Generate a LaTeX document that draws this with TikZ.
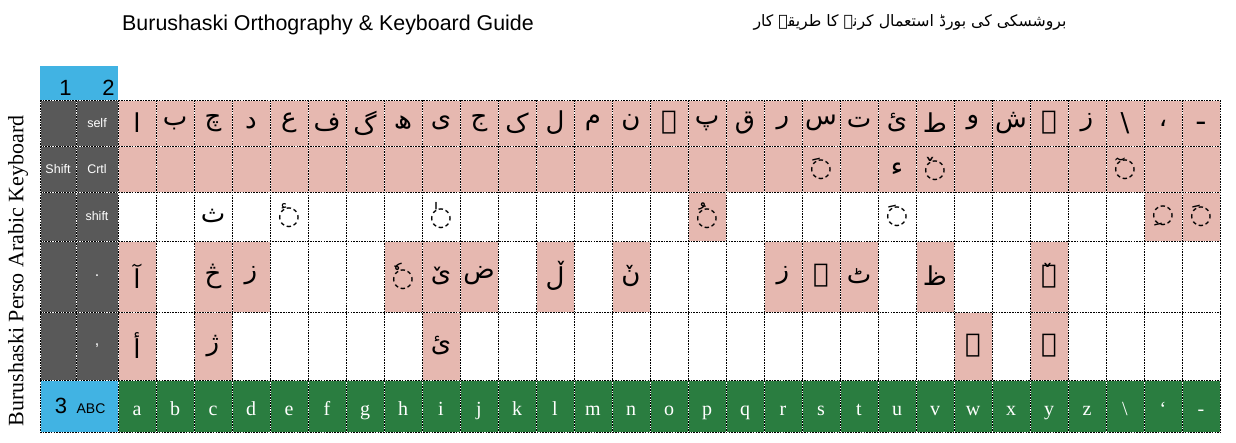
\documentclass[tikz,border=0pt]{standalone}
\usepackage{fontspec}
\setmainfont{Liberation Serif}
\setsansfont{Liberation Sans}
\newfontfamily\ar[Script=Arabic]{DejaVu Sans}
\TeXXeTstate=1
\definecolor{pinkc}{HTML}{E6B8B0}
\definecolor{grayc}{HTML}{595959}
\definecolor{bluec}{HTML}{41B3E3}
\definecolor{greenc}{HTML}{2A7D40}
\newcommand{\AR}[1]{{\ar\beginR #1\endR}}
\newcommand{\mk}[1]{◌#1}
\tikzset{
  gridw/.style={white, line width=0.8pt},
  gridk/.style={black, line width=0.8pt, dash pattern=on 1.6pt off 1.1pt},
  arcell/.style={inner sep=0pt, font=\fontsize{26}{28}\selectfont},
  keylbl/.style={white, inner sep=0pt, anchor=base, font=\fontsize{20}{22}\selectfont},
  graylbl/.style={white, inner sep=0pt, font=\sffamily\fontsize{12.5}{14}\selectfont},
  bluelbl/.style={black, inner sep=0pt, anchor=base, font=\sffamily\fontsize{22}{24}\selectfont},
}
\begin{document}
\begin{tikzpicture}[x=1pt,y=-1pt]
\useasboundingbox (0,0) rectangle (1236,442);
% fills
\fill[bluec] (40,66) rectangle (118,100);
\fill[grayc] (40,100) rectangle (118,380);
\fill[bluec] (40,380) rectangle (118,432);
\fill[greenc] (118,380) rectangle (1220,432);
\fill[pinkc] (118,100) rectangle (1220,192);
\foreach \k in {16,28,29} \fill[pinkc] ({118+38*(\k-1)},192) rectangle ++(38,49);
\foreach \k in {1,3,4,8,9,10,12,14,18,19,20,22,25} \fill[pinkc] ({118+38*(\k-1)},241) rectangle ++(38,71);
\foreach \k in {1,3,9,23,25} \fill[pinkc] ({118+38*(\k-1)},312) rectangle ++(38,68);
% grid
\foreach \s in {gridw,gridk}{
  \foreach \y in {100,146,192,241,312,380,432} \draw[\s] (40,\y) -- (1220,\y);
  \foreach \k in {0,...,29} \draw[\s] ({118+38*\k},100) -- ({118+38*\k},432);
  \draw[\s] (40,100) -- (40,432);
  \draw[\s] (76,100) -- (76,380);
}
% titles
\node[anchor=west, inner sep=0pt, font=\sffamily\fontsize{21.4}{24}\selectfont] (title) at (122,25) {Burushaski Orthography \& Keyboard Guide};
\node[inner sep=0pt] (urdu) at (910,22) {\resizebox{313pt}{!}{\AR{بروشسکی کی بورڈ استعمال کرنے کا طریقہ کار}}};
\node[rotate=90, inner sep=0pt, font=\fontsize{22}{24}\selectfont] (vtitle) at (18,271) {Burushaski Perso Arabic Keyboard};
% blue labels
\node[bluelbl] (one) at (65.5,95) {1};
\node[bluelbl] (two) at (108.5,95) {2};
\node[bluelbl] (three) at (61,413) {3};
\node[bluelbl, font=\sffamily\fontsize{14}{16}\selectfont] (abc) at (91,413) {ABC};
% gray labels
\node[graylbl] (lself) at (97,123) {self};
\node[graylbl] (lShift) at (58,169) {Shift};
\node[graylbl] (lcrtl) at (97,169) {Crtl};
\node[graylbl] (lshift) at (97,216) {shift};
\node[graylbl, font=\sffamily\fontsize{16}{18}\selectfont] (ldot) at (97,276) {.};
\node[graylbl, font=\sffamily\fontsize{16}{18}\selectfont] (lcomma) at (97,346) {,};
% row 1 (self)
\foreach \k/\c in {1/ا,2/ب,3/چ,4/د,5/ع,6/ف,7/گ,8/ھ,9/ی,10/ج,11/ک,12/ل,13/م,14/ن,15/ہ,16/پ,17/ق,18/ر,19/س,20/ت,21/ئ,22/ط,23/و,24/ش,25/ے,26/ز,28/،,29/ـ}
  \node[arcell] (ra\k) at ({99+38*\k},123) {\AR{\c}};
\node[arcell] (ra27) at ({99+38*27},123) {\ar\textbackslash};
% row 2 (Shift Crtl)
\foreach \k/\c in {19/\mk{َ},21/ء,22/\mk{ٚ},27/\mk{ٓ}}
  \node[arcell] (rb\k) at ({99+38*\k},169) {\AR{\c}};
% row 3 (shift)
\foreach \k/\c in {3/ث,5/\mk{ٔ},9/\mk{ٰ},16/\mk{ُ},21/\mk{َ},28/\mk{ِ},29/\mk{َ}}
  \node[arcell] (rc\k) at ({99+38*\k},216) {\AR{\c}};
% row 4 (.)
\foreach \k/\c in {1/آ,3/څ,4/ز,8/\mk{ٗ},9/ێ,10/ض,12/ڵ,14/نٚ,18/ز,19/ݽ,20/ٹ,22/ظ,25/ےٚ}
  \node[arcell] (rd\k) at ({99+38*\k},276) {\AR{\c}};
% row 5 (,)
\foreach \k/\c in {1/أ,3/ژ,9/ئ,23/ۏ,25/ۓ}
  \node[arcell] (re\k) at ({99+38*\k},346) {\AR{\c}};
% row 6 (ABC)
\foreach \k/\c in {1/a,2/b,3/c,4/d,5/e,6/f,7/g,8/h,9/i,10/j,11/k,12/l,13/m,14/n,15/o,16/p,17/q,18/r,19/s,20/t,21/u,22/v,23/w,24/x,25/y,26/z,28/‘,29/-}
  \node[keylbl] (rf\k) at ({99+38*\k},415) {\c};
\node[keylbl] (rf27) at ({99+38*27},415) {\textbackslash};
\end{tikzpicture}
\end{document}
